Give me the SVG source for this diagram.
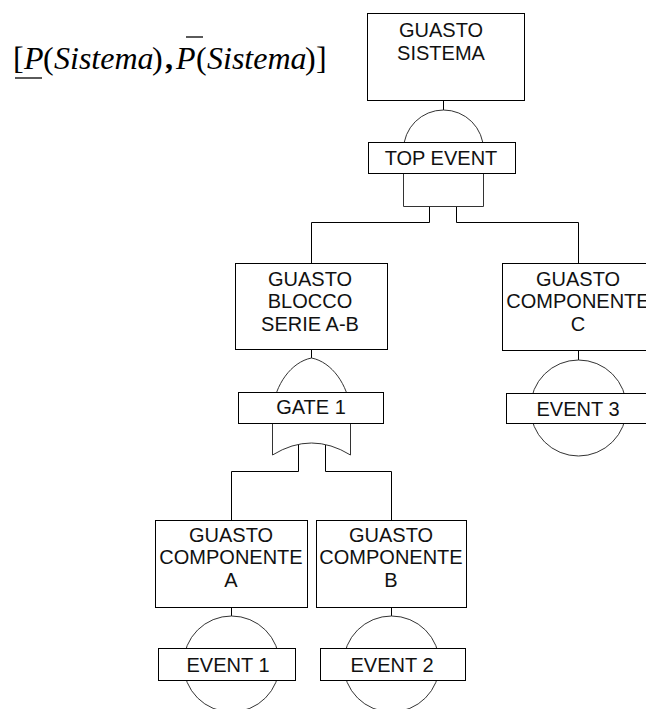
<svg xmlns="http://www.w3.org/2000/svg" width="646" height="709" viewBox="0 0 646 709">
  <style>
    .box { fill: #fff; stroke: #000; stroke-width: 1; }
    .gate { fill: #fff; stroke: #333; stroke-width: 1; }
    .wire { fill: none; stroke: #000; stroke-width: 1; }
    .lbl { font-family: "Liberation Sans", Arial, sans-serif; font-size: 20px; fill: #111; text-anchor: middle; }
    .math { font-family: "Liberation Serif", "Times New Roman", serif; font-size: 32px; fill: #000; }
    .it { font-style: italic; }
  </style>

  <rect width="646" height="709" fill="#fff"/>

  <!-- interval formula -->
  <g id="formula">
    <text class="math" y="69">
      <tspan x="13">[</tspan><tspan x="24" class="it">P</tspan><tspan x="43">(</tspan><tspan x="54" class="it">Sistema</tspan><tspan x="152">)</tspan><tspan x="165" font-weight="bold">,</tspan><tspan x="176" class="it">P</tspan><tspan x="196">(</tspan><tspan x="207" class="it">Sistema</tspan><tspan x="305">)</tspan><tspan x="316">]</tspan>
    </text>
    <line x1="15" y1="78" x2="42" y2="78" stroke="#000" stroke-width="1.3"/>
    <line x1="186" y1="37" x2="203" y2="37" stroke="#000" stroke-width="1.3"/>
  </g>

  <!-- connectors -->
  <g id="connectors" class="wire">
    <path d="M443.5 101 V110"/>
    <path d="M429.5 206 V222.5 H311.5 V263"/>
    <path d="M456.5 206 V222.5 H578.5 V263"/>
    <path d="M311.5 350 V358"/>
    <path d="M578.5 351 V360"/>
    <path d="M298.5 445 V471.5 H231.5 V520"/>
    <path d="M325.5 445 V471.5 H391.5 V520"/>
    <path d="M231.5 607 V616"/>
    <path d="M391.5 607 V616"/>
  </g>

  <!-- top event -->
  <g id="guasto-sistema">
    <rect class="box" x="367.5" y="13.5" width="157" height="87"/>
    <text class="lbl" x="441" y="37">GUASTO</text>
    <text class="lbl" x="441" y="59.5">SISTEMA</text>
  </g>

  <!-- AND gate under the top event -->
  <g id="top-event">
    <path class="gate" d="M403.5 206.5 V150 A40 40 0 0 1 483.5 150 V206.5 Z"/>
    <rect class="box" x="368.5" y="142.5" width="147" height="31"/>
    <text class="lbl" x="441" y="165">TOP EVENT</text>
  </g>

  <g id="guasto-blocco">
    <rect class="box" x="235.5" y="263.5" width="152" height="86"/>
    <text class="lbl" x="310" y="286">GUASTO</text>
    <text class="lbl" x="310" y="308">BLOCCO</text>
    <text class="lbl" x="310" y="331">SERIE A-B</text>
  </g>

  <g id="guasto-c">
    <rect class="box" x="502.5" y="263.5" width="152" height="87"/>
    <text class="lbl" x="578" y="286">GUASTO</text>
    <text class="lbl" x="578" y="308">COMPONENTE</text>
    <text class="lbl" x="578" y="331">C</text>
  </g>

  <!-- OR gate -->
  <g id="gate-1">
    <path class="gate" d="M311.5 358 C291 362 275 385 272.5 410 V455 Q311.5 431 350.5 455 V410 C348 385 332 362 311.5 358 Z"/>
    <rect class="box" x="238.5" y="392.5" width="145" height="31"/>
    <text class="lbl" x="311" y="414">GATE 1</text>
  </g>

  <g id="event-3">
    <circle class="gate" cx="578.5" cy="408" r="48"/>
    <rect class="box" x="506.5" y="393.5" width="144" height="30"/>
    <text class="lbl" x="578" y="416">EVENT 3</text>
  </g>

  <g id="guasto-a">
    <rect class="box" x="155.5" y="520.5" width="152" height="87"/>
    <text class="lbl" x="231" y="542">GUASTO</text>
    <text class="lbl" x="231" y="564">COMPONENTE</text>
    <text class="lbl" x="231" y="587">A</text>
  </g>

  <g id="guasto-b">
    <rect class="box" x="316.5" y="520.5" width="150" height="87"/>
    <text class="lbl" x="391" y="542">GUASTO</text>
    <text class="lbl" x="391" y="564">COMPONENTE</text>
    <text class="lbl" x="391" y="587">B</text>
  </g>

  <g id="event-1">
    <circle class="gate" cx="231.5" cy="664" r="48"/>
    <rect class="box" x="158.5" y="648.5" width="137" height="32"/>
    <text class="lbl" x="228" y="672">EVENT 1</text>
  </g>

  <g id="event-2">
    <circle class="gate" cx="391.5" cy="664" r="48"/>
    <rect class="box" x="320.5" y="648.5" width="145" height="32"/>
    <text class="lbl" x="392" y="672">EVENT 2</text>
  </g>
</svg>
